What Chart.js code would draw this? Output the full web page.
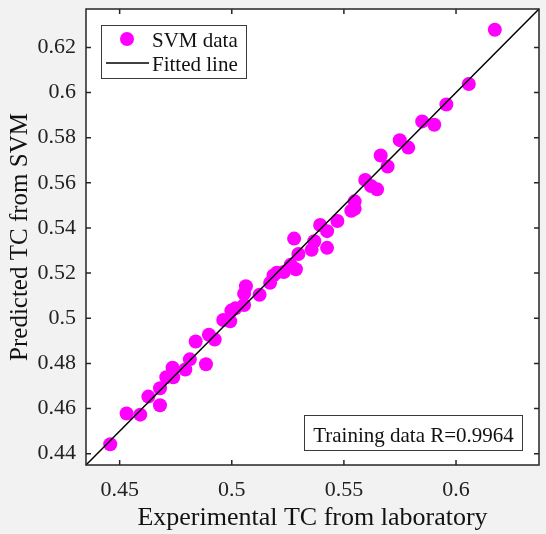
<!DOCTYPE html>
<html>
<head>
<meta charset="utf-8">
<script src="https://cdn.jsdelivr.net/npm/chart.js@4/dist/chart.umd.min.js"></script>
<style>
    html, body { margin: 0; padding: 0; background: #f2f2f2; }
    canvas { display: block; }
</style>
</head>
<body>
<canvas id="svmChart" width="546" height="534"></canvas>
<script>

// experimental (x) vs predicted (y)
const svmX = [0.4458, 0.4531, 0.4592, 0.4628, 0.4680, 0.4680, 0.4708, 0.4736, 0.4739, 0.4793,
    0.4813, 0.4885, 0.4839, 0.4898, 0.4924, 0.4962, 0.4993, 0.4998, 0.5016, 0.5055,
    0.5055, 0.5063, 0.5124, 0.5171, 0.5186, 0.5201, 0.5232, 0.5263, 0.5286, 0.5278,
    0.5297, 0.5356, 0.5368, 0.5394, 0.5425, 0.5425, 0.5471, 0.5533, 0.5548, 0.5548,
    0.5595, 0.5621, 0.5648, 0.5664, 0.5695, 0.5749, 0.5787, 0.5849, 0.5903, 0.5957,
    0.6057, 0.6173];
const svmY = [0.4442, 0.4578, 0.4573, 0.4653, 0.4615, 0.4690, 0.4739, 0.4781, 0.4739, 0.4773,
    0.4818, 0.4796, 0.4897, 0.4927, 0.4906, 0.4992, 0.4987, 0.5034, 0.5044, 0.5059,
    0.5109, 0.5142, 0.5104, 0.5157, 0.5190, 0.5202, 0.5205, 0.5237, 0.5217, 0.5353,
    0.5285, 0.5303, 0.5341, 0.5413, 0.5386, 0.5312, 0.5431, 0.5476, 0.5518, 0.5485,
    0.5613, 0.5586, 0.5571, 0.5721, 0.5672, 0.5789, 0.5756, 0.5872, 0.5857, 0.5947,
    0.6038, 0.6278];

const fitX = [0.435, 0.637];
const fitY = [0.435, 0.637];

const xTicks = [0.45, 0.5, 0.55, 0.6];
const yTicks = [0.44, 0.46, 0.48, 0.5, 0.52, 0.54, 0.56, 0.58, 0.6, 0.62];

const axisMin = 0.435;
const axisMax = 0.637;

const legendLabels = ["SVM data", "Fitted line"];
const noteText = "Training data R=0.9964";

const serif = "'Liberation Serif', 'Times New Roman', serif";
const magenta = "#ff00ff";

/*
=====================================
FRAME / LEGEND / NOTE
=====================================
*/

const framePlugin = {

    id: "frame",

    beforeDraw(chart) {
        const {ctx, chartArea: a} = chart;
        ctx.save();
        ctx.fillStyle = "#f2f2f2";
        ctx.fillRect(0, 0, chart.width, chart.height);
        ctx.fillStyle = "#ffffff";
        ctx.fillRect(a.left, a.top, a.right - a.left, a.bottom - a.top);
        ctx.restore();
    },

    afterDraw(chart) {
        const {ctx, chartArea: a, scales} = chart;
        ctx.save();

        // box + inner ticks
        ctx.strokeStyle = "#262626";
        ctx.lineWidth = 1.5;
        ctx.strokeRect(a.left, a.top, a.right - a.left, a.bottom - a.top);

        ctx.beginPath();
        xTicks.forEach(v => {
            const px = scales.x.getPixelForValue(v);
            ctx.moveTo(px, a.bottom);
            ctx.lineTo(px, a.bottom - 5);
            ctx.moveTo(px, a.top);
            ctx.lineTo(px, a.top + 5);
        });
        yTicks.forEach(v => {
            const py = scales.y.getPixelForValue(v);
            ctx.moveTo(a.left, py);
            ctx.lineTo(a.left + 5, py);
            ctx.moveTo(a.right, py);
            ctx.lineTo(a.right - 5, py);
        });
        ctx.stroke();

        // legend
        ctx.fillStyle = "#ffffff";
        ctx.fillRect(101, 25, 145, 53);
        ctx.strokeStyle = "#3a3a3a";
        ctx.lineWidth = 1;
        ctx.strokeRect(101.5, 25.5, 145, 53);

        ctx.fillStyle = magenta;
        ctx.beginPath();
        ctx.arc(127, 39, 7, 0, Math.PI * 2);
        ctx.fill();

        ctx.strokeStyle = "#000000";
        ctx.lineWidth = 1.5;
        ctx.beginPath();
        ctx.moveTo(106, 63);
        ctx.lineTo(149, 63);
        ctx.stroke();

        ctx.fillStyle = "#111111";
        ctx.font = "21px " + serif;
        ctx.textBaseline = "alphabetic";
        ctx.textAlign = "left";
        ctx.fillText(legendLabels[0], 152, 47);
        ctx.fillText(legendLabels[1], 152, 71);

        // note box
        ctx.fillStyle = "#ffffff";
        ctx.fillRect(304, 415, 218, 35);
        ctx.strokeStyle = "#3a3a3a";
        ctx.lineWidth = 1;
        ctx.strokeRect(304.5, 415.5, 218, 35);
        ctx.fillStyle = "#111111";
        ctx.textAlign = "center";
        ctx.fillText(noteText, 413.5, 442);

        ctx.restore();
    }
};

// keep Chart.js from adding label padding around the plot box
function dropPadding(scale) {
    scale.paddingTop = 0;
    scale.paddingBottom = 0;
    scale.paddingLeft = 0;
    scale.paddingRight = 0;
}

/*
=====================================
CHART
=====================================
*/

const canvas = document.getElementById("svmChart");

new Chart(canvas, {

    type: "scatter",

    data: {
        datasets: [
            {
                type: "line",
                label: legendLabels[1],
                data: fitX.map((x, i) => ({x, y: fitY[i]})),
                borderColor: "#000000",
                borderWidth: 1.5,
                pointRadius: 0,
                fill: false,
                clip: false
            },
            {
                label: legendLabels[0],
                data: svmX.map((x, i) => ({x, y: svmY[i]})),
                backgroundColor: magenta,
                borderWidth: 0,
                pointRadius: 7
            }
        ]
    },

    options: {

        responsive: false,
        animation: false,
        devicePixelRatio: 1,

        layout: {
            padding: {top: 9, right: 6, left: 0, bottom: 0}
        },

        plugins: {
            legend: {display: false},
            tooltip: {enabled: false}
        },

        scales: {

            x: {
                type: "linear",
                min: axisMin,
                max: axisMax,
                afterBuildTicks: scale => {
                    scale.ticks = xTicks.map(value => ({value}));
                },
                afterFit: scale => {
                    scale.height = 69;
                    dropPadding(scale);
                },
                grid: {display: false, drawTicks: false},
                border: {display: false},
                ticks: {
                    padding: 12,
                    color: "#222222",
                    font: {family: serif, size: 22},
                    callback: v => String(v)
                },
                title: {
                    display: true,
                    text: "Experimental TC from laboratory",
                    color: "#111111",
                    font: {family: serif, size: 26},
                    padding: {top: 0, bottom: 0}
                }
            },

            y: {
                type: "linear",
                min: axisMin,
                max: axisMax,
                afterBuildTicks: scale => {
                    scale.ticks = yTicks.map(value => ({value}));
                },
                afterFit: scale => {
                    scale.width = 86;
                    dropPadding(scale);
                },
                grid: {display: false, drawTicks: false},
                border: {display: false},
                ticks: {
                    padding: 10,
                    color: "#222222",
                    font: {family: serif, size: 22},
                    callback: v => String(v)
                },
                title: {
                    display: true,
                    text: "Predicted TC from SVM",
                    color: "#111111",
                    font: {family: serif, size: 25},
                    padding: {top: 5, bottom: 0}
                }
            }

        }

    },

    plugins: [framePlugin]

});

</script>
</body>
</html>
